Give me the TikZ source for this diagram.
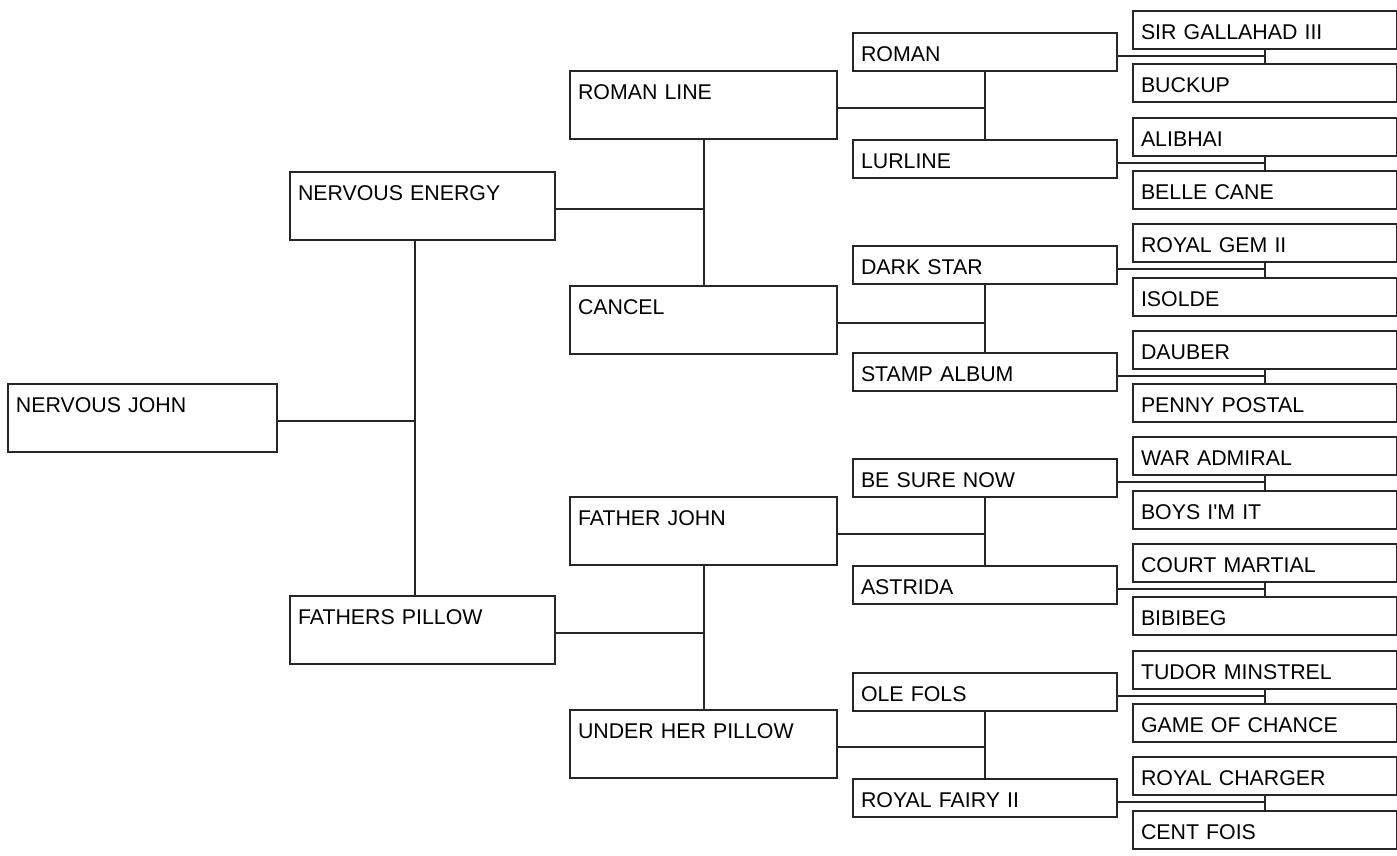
\documentclass[tikz,border=0pt]{standalone}
\usepackage{fontspec}
\setmainfont{Liberation Sans}[Ligatures=TeXOff]
\usetikzlibrary{positioning}
\definecolor{linegray}{RGB}{38,38,38}
\tikzset{
  font=\fontsize{16}{18}\selectfont,
  horse/.style={
    draw=linegray,
    line width=1.5pt,
    anchor=north west,
    align=left,
    inner xsep=6pt,
    inner ysep=0pt,
    text width=186pt,
    text height=21.4pt
  },
  tall/.style={horse,text depth=29.6pt},
  short/.style={horse,text depth=7.1pt},
  link/.style={draw=linegray,line width=1.5pt}
}

\begin{document}
\begin{tikzpicture}[x=0.75pt,y=-0.75pt]
  \useasboundingbox (0,0) rectangle (1397,856);

  % subject
  \node[tall,text width=189.75pt] at (7,383) (john) {NERVOUS JOHN};

  % parents
  \node[tall,text width=186.75pt] at (289,171) (energy) {NERVOUS ENERGY};
  \node[tall,text width=186.75pt] at (289,595) (pillow) {FATHERS PILLOW};

  % grandparents
  \node[tall,text width=188.25pt] at (569,70) (romanline) {ROMAN LINE};
  \node[tall,text width=188.25pt] at (569,285) (cancel) {CANCEL};
  \node[tall,text width=188.25pt] at (569,496) (fatherjohn) {FATHER JOHN};
  \node[tall,text width=188.25pt] at (569,709) (herpillow) {UNDER HER PILLOW};

  % great-grandparents
  \node[short] at (852,32) (roman) {ROMAN};
  \node[short] at (852,138.6) (lurline) {LURLINE};
  \node[short] at (852,245.2) (darkstar) {DARK STAR};
  \node[short] at (852,351.8) (stampalbum) {STAMP ALBUM};
  \node[short] at (852,458.4) (besurenow) {BE SURE NOW};
  \node[short] at (852,565) (astrida) {ASTRIDA};
  \node[short] at (852,671.6) (olefols) {OLE FOLS};
  \node[short] at (852,778.2) (royalfairy) {ROYAL FAIRY II};

  % great-great-grandparents
  \node[short] at (1132,10) (gallahad) {SIR GALLAHAD III};
  \node[short] at (1132,63.3) (buckup) {BUCKUP};
  \node[short] at (1132,116.6) (alibhai) {ALIBHAI};
  \node[short] at (1132,169.9) (bellecane) {BELLE CANE};
  \node[short] at (1132,223.2) (royalgem) {ROYAL GEM II};
  \node[short] at (1132,276.5) (isolde) {ISOLDE};
  \node[short] at (1132,329.8) (dauber) {DAUBER};
  \node[short] at (1132,383.1) (pennypostal) {PENNY POSTAL};
  \node[short] at (1132,436.4) (waradmiral) {WAR ADMIRAL};
  \node[short] at (1132,489.7) (boysimit) {BOYS I'M IT};
  \node[short] at (1132,543) (courtmartial) {COURT MARTIAL};
  \node[short] at (1132,596.3) (bibibeg) {BIBIBEG};
  \node[short] at (1132,649.6) (tudor) {TUDOR MINSTREL};
  \node[short] at (1132,702.9) (gamechance) {GAME OF CHANCE};
  \node[short] at (1132,756.2) (royalcharger) {ROYAL CHARGER};
  \node[short] at (1132,809.5) (centfois) {CENT FOIS};

  % brackets
  \draw[link] ([yshift=-2.6pt]john.east) -| ([xshift=-5.6pt]energy.south);
  \draw[link] ([yshift=-2.6pt]john.east) -| ([xshift=-5.6pt]pillow.north);

  \draw[link] ([yshift=-2.6pt]energy.east) -| (romanline.south);
  \draw[link] ([yshift=-2.6pt]energy.east) -| (cancel.north);
  \draw[link] ([yshift=-2.6pt]pillow.east) -| (fatherjohn.south);
  \draw[link] ([yshift=-2.6pt]pillow.east) -| (herpillow.north);

  \draw[link] ([yshift=-2.6pt]romanline.east) -| (roman.south);
  \draw[link] ([yshift=-2.6pt]romanline.east) -| (lurline.north);
  \draw[link] ([yshift=-2.6pt]cancel.east) -| (darkstar.south);
  \draw[link] ([yshift=-2.6pt]cancel.east) -| (stampalbum.north);
  \draw[link] ([yshift=-2.6pt]fatherjohn.east) -| (besurenow.south);
  \draw[link] ([yshift=-2.6pt]fatherjohn.east) -| (astrida.north);
  \draw[link] ([yshift=-2.6pt]herpillow.east) -| (olefols.south);
  \draw[link] ([yshift=-2.6pt]herpillow.east) -| (royalfairy.north);

  \draw[link] ([yshift=-3pt]roman.east) -| (gallahad.south);
  \draw[link] ([yshift=-3pt]roman.east) -| (buckup.north);
  \draw[link] ([yshift=-3pt]lurline.east) -| (alibhai.south);
  \draw[link] ([yshift=-3pt]lurline.east) -| (bellecane.north);
  \draw[link] ([yshift=-3pt]darkstar.east) -| (royalgem.south);
  \draw[link] ([yshift=-3pt]darkstar.east) -| (isolde.north);
  \draw[link] ([yshift=-3pt]stampalbum.east) -| (dauber.south);
  \draw[link] ([yshift=-3pt]stampalbum.east) -| (pennypostal.north);
  \draw[link] ([yshift=-3pt]besurenow.east) -| (waradmiral.south);
  \draw[link] ([yshift=-3pt]besurenow.east) -| (boysimit.north);
  \draw[link] ([yshift=-3pt]astrida.east) -| (courtmartial.south);
  \draw[link] ([yshift=-3pt]astrida.east) -| (bibibeg.north);
  \draw[link] ([yshift=-3pt]olefols.east) -| (tudor.south);
  \draw[link] ([yshift=-3pt]olefols.east) -| (gamechance.north);
  \draw[link] ([yshift=-3pt]royalfairy.east) -| (royalcharger.south);
  \draw[link] ([yshift=-3pt]royalfairy.east) -| (centfois.north);

\end{tikzpicture}
\end{document}
